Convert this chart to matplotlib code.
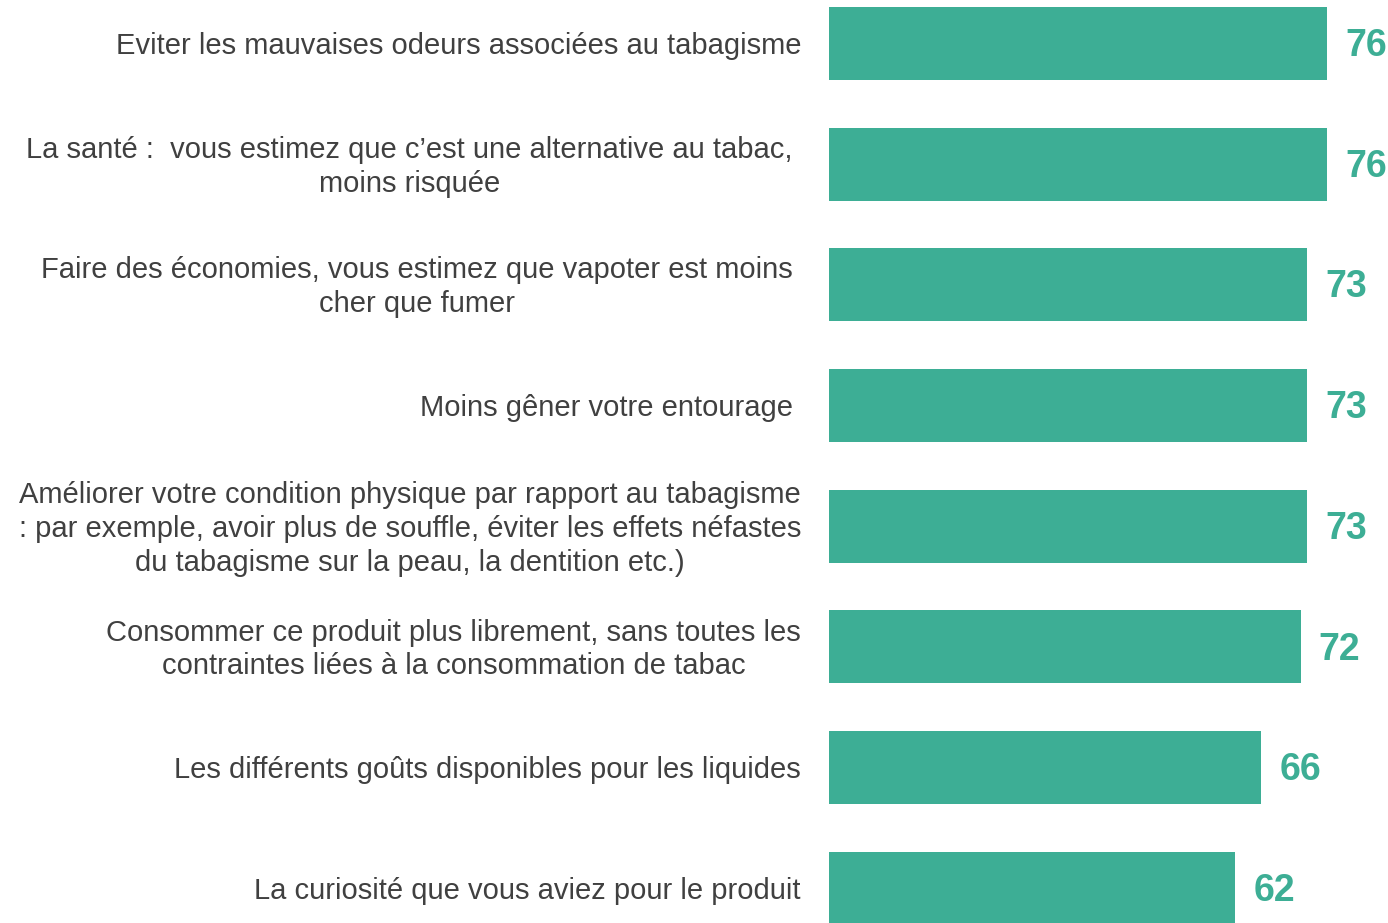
import matplotlib
matplotlib.use("Agg")
import matplotlib.pyplot as plt

categories = [
    "Eviter les mauvaises odeurs associées au tabagisme",
    "La santé :  vous estimez que c\u2019est une alternative au tabac,\nmoins risquée",
    "Faire des économies, vous estimez que vapoter est moins\ncher que fumer",
    "Moins gêner votre entourage",
    "Améliorer votre condition physique par rapport au tabagisme\n: par exemple, avoir plus de souffle, éviter les effets néfastes\ndu tabagisme sur la peau, la dentition etc.)",
    "Consommer ce produit plus librement, sans toutes les\ncontraintes liées à la consommation de tabac",
    "Les différents goûts disponibles pour les liquides",
    "La curiosité que vous aviez pour le produit",
]
values = [76, 76, 73, 73, 73, 72, 66, 62]
label_right_px = [801, 793, 793, 793, 801, 801, 801, 801]

W, H = 1388, 923
fig = plt.figure(figsize=(W / 100, H / 100), dpi=100)
fig.patch.set_facecolor("white")

x0 = 829
px_per_unit = (1327 - 829) / 76
pitch = 120.7
c0 = 43.5
ax = fig.add_axes([x0 / W, 0, 1 - x0 / W, 1])
ax.set_xlim(0, (W - x0) / px_per_unit)
ax.set_ylim((H - c0) / pitch, -c0 / pitch)
ax.axis("off")

teal = "#3DAE95"
ypos = list(range(len(values)))
ax.barh(ypos, values, height=73 / pitch, color=teal, edgecolor="none")

for y, v in zip(ypos, values):
    ax.text(v + 18 / px_per_unit, y + 2.5 / pitch, str(v), ha="left", va="center",
            fontsize=27, fontweight="bold", color=teal, family="Liberation Sans")

for y, lab, rx in zip(ypos, categories, label_right_px):
    yf = 1 - (c0 + 2.5 + y * pitch) / H
    fig.text(rx / W, yf, lab, ha="right", va="center", multialignment="center",
             fontsize=21, color="#404040", family="Liberation Sans", linespacing=1.27)

fig.savefig("out.png", dpi=100, facecolor="white")
